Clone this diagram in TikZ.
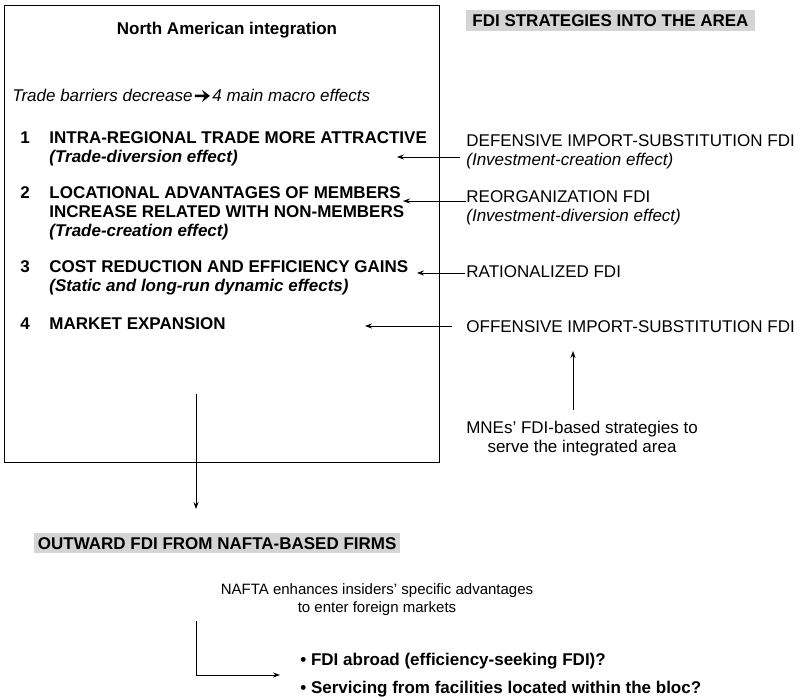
\documentclass[tikz,border=0pt]{standalone}
\usepackage{fontspec}
\setmainfont{Liberation Sans}
\usepackage{tikz}
\usetikzlibrary{calc, arrows.meta}
\definecolor{bargray}{gray}{0.83}

\begin{document}
\begin{tikzpicture}[x=1pt, y=-1pt, line width=0.8pt,
    plain/.style={anchor=base west, align=left, inner sep=0pt, font=\fontsize{17}{19}\selectfont},
    heavy/.style={plain, font=\bfseries\fontsize{17}{19}\selectfont},
    shaded/.style={heavy, fill=bargray, text height=12.5pt, text depth=0pt, inner ysep=4pt},
    link/.style={-{Stealth[length=7pt,width=5pt]}}]
                \useasboundingbox (0,0) rectangle (806,698);
                \draw (4,5) rectangle (439,462);
                \node[heavy, anchor=base] (title) at (227,35) {North American integration};
                \node[plain, inner sep=2pt, font=\itshape\fontsize{17}{19}\selectfont] (barriers) at (10,102) {Trade barriers decrease};
                \node[plain, inner sep=2pt, font=\itshape\fontsize{17}{19}\selectfont] (macro) at (210,102) {4 main macro effects};
                \draw[-{Stealth[length=8pt,width=12pt,inset=3pt]}, line width=2.4pt] (barriers) -- (macro);
                \foreach \n/\y in {1/144,2/198,3/272,4/329}
                  \node[heavy] (num\n) at (20,\y) {\n};
                \node[heavy] (intra) at (49,163) {INTRA-REGIONAL TRADE MORE ATTRACTIVE\\\textit{(Trade-diversion effect)}};
                \node[heavy] (locational) at (49,236) {LOCATIONAL ADVANTAGES OF MEMBERS\\INCREASE RELATED WITH NON-MEMBERS\\\textit{(Trade-creation effect)}};
                \node[heavy] (cost) at (49,291) {COST REDUCTION AND EFFICIENCY GAINS\\\textit{(Static and long-run dynamic effects)}};
                \node[heavy] (market) at (49,329) {MARKET EXPANSION};
                \node[shaded, inner xsep=6pt] (intoarea) at (466,27) {FDI STRATEGIES INTO THE AREA};
                \node[plain] (defensive) at (466,165) {DEFENSIVE IMPORT-SUBSTITUTION FDI\\\textit{(Investment-creation effect)}};
                \node[plain] (reorg) at (466,221) {REORGANIZATION FDI\\\textit{(Investment-diversion effect)}};
                \node[plain] (rational) at (466,277) {RATIONALIZED FDI};
                \node[plain] (offensive) at (466,332) {OFFENSIVE IMPORT-SUBSTITUTION FDI};
                \node[plain, anchor=base, align=center] (mne) at (582,452) {MNEs' FDI-based strategies to\\serve the integrated area};
                \node[shaded, inner xsep=3.5pt, inner ysep=3.5pt] (outward) at (34,549) {OUTWARD FDI FROM NAFTA-BASED FIRMS};
                \node[plain, anchor=base, align=center, font=\fontsize{15}{18}\selectfont] (nafta) at (377,612) {NAFTA enhances insiders' specific advantages\\to enter foreign markets};
                \node[heavy, font=\bfseries\fontsize{17}{28}\selectfont] (bullets) at (300,693) {• FDI abroad (efficiency-seeking FDI)?\\• Servicing from facilities located within the bloc?};
                \coordinate (t1) at (397,157);
                \coordinate (t2) at (403,201);
                \coordinate (t3) at (417,273);
                \coordinate (t4) at (365,326);
                \draw[link] ($(t1 -| defensive.west)+(-6,0)$) -- (t1);
                \draw[link] (t2 -| reorg.west) -- (t2);
                \draw[link] ($(t3 -| rational.west)+(-1,0)$) -- (t3);
                \draw[link] ($(t4 -| offensive.west)+(-14,0)$) -- (t4);
                \coordinate (rise) at (573,410);
                \coordinate (riseend) at (573,351);
                \draw[link] (rise) -- (riseend);
                \coordinate (drop) at (196,394);
                \coordinate (dropend) at (196,509);
                \draw[link] (drop) -- (dropend);
                \coordinate (bend) at (196,621);
                \coordinate (bendend) at (280,675);
                \draw[link] (bend) |- (bendend);
\end{tikzpicture}
\end{document}
